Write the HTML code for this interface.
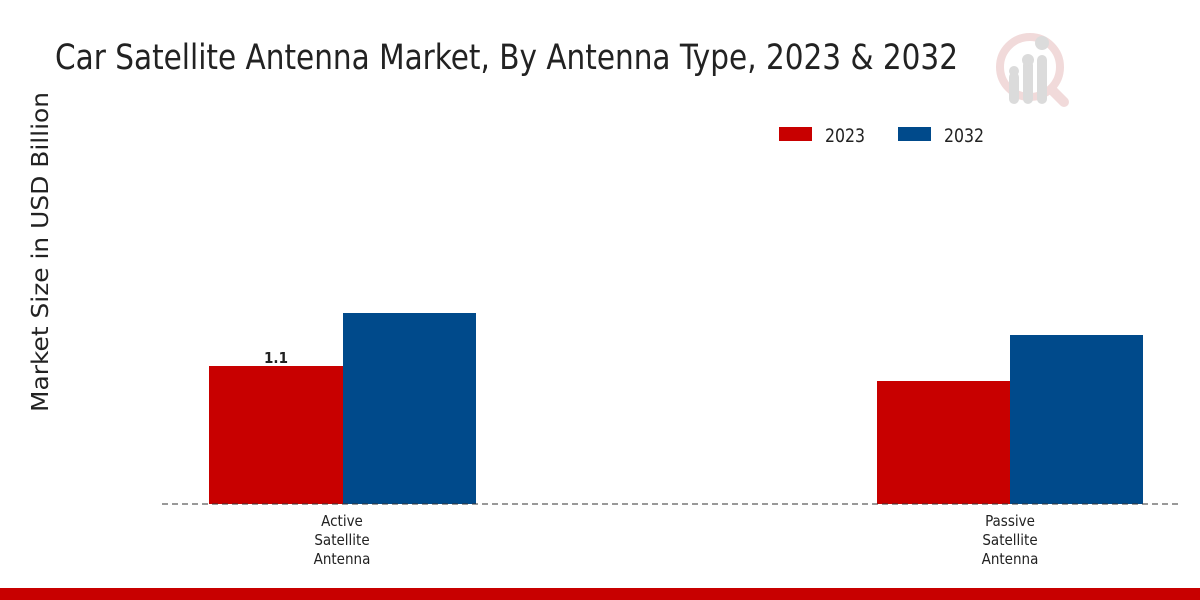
<!DOCTYPE html>
<html><head><meta charset="utf-8"><style>
html,body{margin:0;padding:0;background:#fff;}
body{width:1200px;height:600px;position:relative;overflow:hidden;font-family:"DejaVu Sans Condensed","DejaVu Sans",sans-serif;}
</style></head><body>
<svg width="1200" height="600" viewBox="0 0 1200 600" xmlns="http://www.w3.org/2000/svg" style="position:absolute;left:0;top:0">
<g opacity="0.9">
<circle cx="1030" cy="67" r="30" fill="none" stroke="#f0d6d6" stroke-width="8"/>
<line x1="1052" y1="90" x2="1064" y2="102" stroke="#f0d6d6" stroke-width="10" stroke-linecap="round"/>
<rect x="1009" y="72" width="10" height="32" rx="5" fill="#d8d8d8"/>
<rect x="1023" y="60" width="10" height="44" rx="5" fill="#d8d8d8"/>
<rect x="1037" y="55" width="10" height="49" rx="5" fill="#d8d8d8"/>
<circle cx="1014" cy="71" r="5" fill="#d8d8d8"/>
<circle cx="1028" cy="60" r="6" fill="#d8d8d8"/>
<circle cx="1042" cy="43" r="7" fill="#d8d8d8"/>
</g>
<text x="55" y="69" font-size="35" fill="#222" font-family="DejaVu Sans Condensed, DejaVu Sans, sans-serif" textLength="903" lengthAdjust="spacingAndGlyphs">Car Satellite Antenna Market, By Antenna Type, 2023 &amp; 2032</text>
<text transform="translate(48,252) rotate(-90)" text-anchor="middle" font-size="23" fill="#222" font-family="DejaVu Sans, sans-serif" textLength="320" lengthAdjust="spacingAndGlyphs">Market Size in USD Billion</text>
<rect x="779" y="127" width="33" height="14" fill="#c80000"/>
<text x="825" y="142" font-size="19" fill="#222" textLength="40" lengthAdjust="spacingAndGlyphs">2023</text>
<rect x="898" y="127" width="33" height="14" fill="#004a8b"/>
<text x="944" y="142" font-size="19" fill="#222" textLength="40" lengthAdjust="spacingAndGlyphs">2032</text>
<rect x="209" y="366" width="134" height="138" fill="#c80000"/>
<rect x="343" y="313" width="133" height="191" fill="#004a8b"/>
<rect x="877" y="381" width="133" height="123" fill="#c80000"/>
<rect x="1010" y="335" width="133" height="169" fill="#004a8b"/>
<text x="276" y="363" text-anchor="middle" font-size="15" font-weight="bold" fill="#222">1.1</text>
<line x1="162" y1="504" x2="1180" y2="504" stroke="#333" stroke-width="1" stroke-dasharray="6,4"/>
<g font-size="15" fill="#222" text-anchor="middle">
<text x="342" y="526">Active</text><text x="342" y="545">Satellite</text><text x="342" y="564">Antenna</text>
<text x="1010" y="526">Passive</text><text x="1010" y="545">Satellite</text><text x="1010" y="564">Antenna</text>
</g>
<rect x="0" y="588" width="1200" height="12" fill="#c80000"/>
</svg>
</body></html>
